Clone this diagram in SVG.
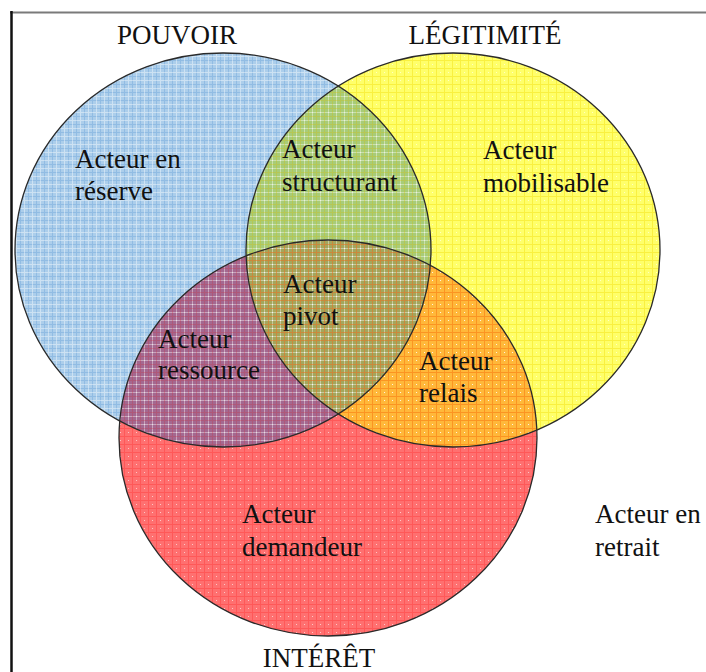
<svg xmlns="http://www.w3.org/2000/svg" width="706" height="672" viewBox="0 0 706 672">
<defs>
<style>
.lbl{font-family:'Liberation Serif','DejaVu Serif',serif;font-size:27px;fill:#111111}
.outline{fill:none;stroke:#2a2a2a;stroke-width:1.3}
</style>
<clipPath id="cpB"><ellipse cx="223" cy="250" rx="208" ry="197"/></clipPath>
<clipPath id="cpY"><ellipse cx="453" cy="250" rx="207" ry="197"/></clipPath>
<clipPath id="cpR"><ellipse cx="328" cy="438" rx="209" ry="198"/></clipPath>
<pattern id="gridB" width="8" height="8" patternUnits="userSpaceOnUse"><path d="M0 4.5H8M4.5 0V8" stroke="#3f86cc" stroke-width="1" opacity="0.25"/><path d="M0 0.5H8M0.5 0V8" stroke="#ffffff" stroke-width="1" opacity="0.4"/></pattern>
<pattern id="gridY" width="8" height="8" patternUnits="userSpaceOnUse"><path d="M0 4.5H8M4.5 0V8" stroke="#f0d800" stroke-width="1" opacity="0.4"/><circle cx="0.5" cy="0.5" r="0.6" fill="#ffffff" opacity="0.6"/></pattern>
<pattern id="gridR" width="8" height="8" patternUnits="userSpaceOnUse"><path d="M0 4.5H8M4.5 0V8" stroke="#ff2020" stroke-width="1" opacity="0.3"/><circle cx="0.5" cy="0.5" r="0.6" fill="#ffffff" opacity="0.6"/></pattern>
</defs>
<rect width="706" height="672" fill="#ffffff"/>

<g id="pouvoir">
<ellipse cx="223" cy="250" rx="208" ry="197" fill="#acceeb"/>
</g>
<g id="legitimite">
<ellipse cx="453" cy="250" rx="207" ry="197" fill="#ffff6a"/>
</g>
<g id="interet">
<ellipse cx="328" cy="438" rx="209" ry="198" fill="#ff7070"/>
</g>

<g id="intersections">
<g clip-path="url(#cpB)"><ellipse cx="453" cy="250" rx="207" ry="197" fill="#a8cc78"/></g>
<g clip-path="url(#cpB)"><ellipse cx="328" cy="438" rx="209" ry="198" fill="#a46890"/></g>
<g clip-path="url(#cpY)"><ellipse cx="328" cy="438" rx="209" ry="198" fill="#ffb83a"/></g>
<g clip-path="url(#cpB)"><g clip-path="url(#cpY)"><ellipse cx="328" cy="438" rx="209" ry="198" fill="#a4a65c"/></g></g>
</g>

<g id="textures">
<rect x="0" y="0" width="706" height="672" fill="url(#gridB)" clip-path="url(#cpB)"/>
<rect x="0" y="0" width="706" height="672" fill="url(#gridY)" clip-path="url(#cpY)"/>
<rect x="0" y="0" width="706" height="672" fill="url(#gridR)" clip-path="url(#cpR)"/>
</g>

<g id="outlines">
<ellipse class="outline" cx="223" cy="250" rx="208" ry="197"/>
<ellipse class="outline" cx="453" cy="250" rx="207" ry="197"/>
<ellipse class="outline" cx="328" cy="438" rx="209" ry="198"/>
</g>

<g id="label-pouvoir"><text class="lbl" x="177" y="44" text-anchor="middle">POUVOIR</text></g>
<g id="label-legitimite"><text class="lbl" x="485" y="44" text-anchor="middle">LÉGITIMITÉ</text></g>
<g id="label-interet"><text class="lbl" x="319" y="667" text-anchor="middle">INTÉRÊT</text></g>

<g id="acteur-reserve"><text class="lbl" x="75" y="168">Acteur en</text><text class="lbl" x="75" y="200">réserve</text></g>
<g id="acteur-structurant"><text class="lbl" x="282" y="158">Acteur</text><text class="lbl" x="282" y="191">structurant</text></g>
<g id="acteur-mobilisable"><text class="lbl" x="483" y="159">Acteur</text><text class="lbl" x="483" y="192">mobilisable</text></g>
<g id="acteur-pivot"><text class="lbl" x="283" y="293">Acteur</text><text class="lbl" x="283" y="325">pivot</text></g>
<g id="acteur-ressource"><text class="lbl" x="158" y="348">Acteur</text><text class="lbl" x="158" y="379">ressource</text></g>
<g id="acteur-relais"><text class="lbl" x="419" y="370">Acteur</text><text class="lbl" x="419" y="402">relais</text></g>
<g id="acteur-demandeur"><text class="lbl" x="242" y="523">Acteur</text><text class="lbl" x="242" y="556">demandeur</text></g>
<g id="acteur-retrait"><text class="lbl" x="595" y="523">Acteur en</text><text class="lbl" x="595" y="556">retrait</text></g>

<g id="frame">
<line x1="10" y1="12.5" x2="706" y2="12.5" stroke="#7a7a7a" stroke-width="2"/>
<line x1="11.5" y1="11" x2="11.5" y2="672" stroke="#111111" stroke-width="2.5"/>
</g>
</svg>
